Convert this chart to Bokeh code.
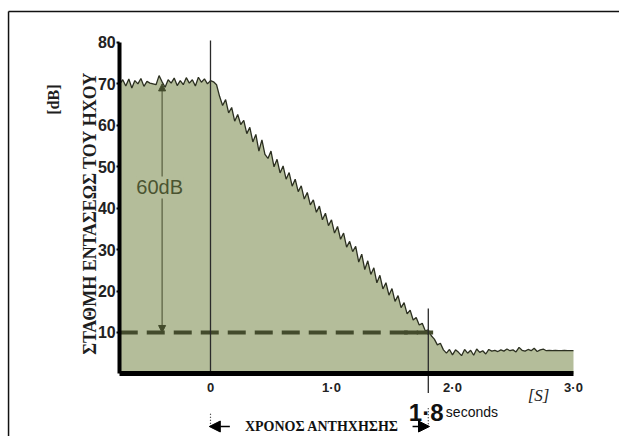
import numpy as np
from bokeh.plotting import figure
from bokeh.models import Range1d, LinearAxis, FixedTicker, Label, Arrow, NormalHead
from bokeh.embed import file_html
from bokeh.resources import INLINE

# ---------------- data ----------------
T_START = -0.75          # s, left end of the trace
T_STEP = 0.025           # s, sampling of the hand-read trace
T_REVERB = 1.8           # s, reverberation time
LEVEL_START = 70         # dB
LEVEL_END = 10           # dB (60 dB below)

plateau_db = [70.0, 71.0, 69.5, 71.2, 69.0, 70.8, 70.0, 71.3, 69.4, 70.6,
              70.2, 70.0, 69.8, 72.0, 70.5, 69.2, 71.0, 70.2, 71.4, 69.6,
              70.8, 69.8, 71.5, 70.2, 71.0, 69.5, 71.6, 70.4, 71.2, 70.0, 70.8]
decay_db = [70.5, 69.8, 67.0, 64.8, 66.2, 63.0, 64.3, 61.0, 62.6, 60.2,
            61.2, 58.0, 59.5, 56.0, 57.8, 53.8, 56.5, 53.0, 52.0, 53.8,
            50.0, 51.8, 48.5, 50.2, 47.0, 48.6, 45.3, 47.0, 44.0, 45.4,
            42.2, 43.8, 40.8, 42.0, 39.0, 40.5, 37.2, 38.8, 35.8, 37.2,
            34.0, 35.6, 32.5, 34.0, 30.6, 32.0, 29.5, 30.8, 27.0, 28.9,
            25.2, 27.3, 24.0, 25.6, 22.0, 23.8, 20.5, 22.0, 19.0, 20.6,
            17.5, 18.9, 16.0, 17.2, 14.5, 15.4, 13.0, 13.6, 11.8, 12.2,
            10.4, 10.6]
tail_db = [9.2, 8.4, 7.0, 7.4, 5.8, 5.0, 5.9, 4.6, 5.8, 5.2,
           4.4, 5.9, 5.0, 5.7, 4.5, 6.0, 5.2, 5.6, 4.8, 5.9,
           5.5, 5.7, 5.4, 5.8, 5.5, 6.0, 5.6, 5.8, 5.3, 6.4,
           5.7, 5.5, 5.9, 5.6, 6.2, 5.4, 5.8, 6.0, 5.6, 5.7,
           5.6, 5.7, 5.6, 5.6, 5.7, 5.6, 5.6, 5.6]

levels = plateau_db + decay_db + tail_db
times = [round(T_START + i * T_STEP, 3) for i in range(len(levels))]
T_END = times[-1]

x_ticks = [0, 1, 2, 3]
x_tick_labels = ["0", "1·0", "2·0", "3·0"]
y_ticks = [10, 20, 30, 40, 50, 60, 70, 80]

y_title = "ΣΤΑΘΜΗ ΕΝΤΑΣΕΩΣ ΤΟΥ ΗΧΟΥ"
y_unit = "[dB]"
x_unit = "[S]"
span_label = "60dB"
rt_value = "1·8"
rt_unit = "seconds"
rt_caption = "ΧΡΟΝΟΣ ΑΝΤΗΧΗΣΗΣ"

# ---------------- styling ----------------
FILL = "#b4bd9a"
TRACE = "#2c3021"
DARK_OLIVE = "#434b2c"
TEXT_OLIVE = "#4a5431"

# view window (canvas = plot frame)
X_LO, X_HI = -1.7355, 3.3802
Y_LO, Y_HI = -15.11, 90.13

p = figure(width=619, height=436, x_range=Range1d(X_LO, X_HI), y_range=Range1d(Y_LO, Y_HI),
           output_backend="svg", toolbar_location=None, min_border=0,
           x_axis_type=None, y_axis_type=None)
p.outline_line_color = None
p.background_fill_color = "white"
p.border_fill_color = "white"

# frame border of the scanned picture (top and left)
p.segment(x0=[-1.669, -1.669], y0=[87.47, 87.47], x1=[X_HI, -1.669], y1=[87.47, Y_LO],
          line_color="#111111", line_width=1.5)

# filled decay trace
p.varea(x=times, y1=0, y2=levels, fill_color=FILL)
p.line(times, levels, line_color=TRACE, line_width=1.3)

# dashed reference level at 10 dB
p.line([T_START, T_REVERB], [LEVEL_END, LEVEL_END], line_color=DARK_OLIVE,
       line_width=4, line_dash="18 9")
p.line([T_REVERB - 0.2, T_REVERB + 0.04], [LEVEL_END, LEVEL_END], line_color=DARK_OLIVE,
       line_width=4, line_dash="18 9", line_dash_offset=4)

# vertical marker lines
p.line([0, 0], [0, 80.5], line_color="#2a2a2a", line_width=1.3)
p.line([T_REVERB, T_REVERB], [-4.6, 15.8], line_color="#2a2a2a", line_width=1.3)

# 60 dB double arrow
arrow_x = -0.40
p.add_layout(Arrow(x_start=arrow_x, y_start=LEVEL_END + 32, x_end=arrow_x, y_end=LEVEL_START,
                   line_color=DARK_OLIVE, line_width=1,
                   end=NormalHead(size=7, fill_color=DARK_OLIVE, line_color=DARK_OLIVE)))
p.add_layout(Arrow(x_start=arrow_x, y_start=LEVEL_END + 32, x_end=arrow_x, y_end=LEVEL_END,
                   line_color=DARK_OLIVE, line_width=1,
                   end=NormalHead(size=7, fill_color=DARK_OLIVE, line_color=DARK_OLIVE)))
p.add_layout(Label(x=-0.42, y=45.0, text=span_label, text_align="center", text_baseline="middle",
                   text_font="Liberation Sans", text_font_size="20px", text_color=TEXT_OLIVE,
                   background_fill_color=FILL))

# axes
xax = LinearAxis(ticker=FixedTicker(ticks=x_ticks), fixed_location=0, bounds=(T_START, T_END),
                 major_label_overrides={k: v for k, v in zip(x_ticks, x_tick_labels)},
                 axis_line_width=5, axis_line_color="black",
                 major_tick_out=0, major_tick_in=0, minor_tick_out=0, minor_tick_in=0,
                 major_label_standoff=6, major_label_text_font="Liberation Sans",
                 major_label_text_font_style="bold", major_label_text_font_size="13px",
                 major_label_text_color="#222222")
p.add_layout(xax, "below")
yax = LinearAxis(ticker=FixedTicker(ticks=y_ticks), fixed_location=T_START, bounds=(0, 80),
                 axis_line_width=4, axis_line_color="black",
                 major_tick_out=3, major_tick_in=0, major_tick_line_width=2,
                 minor_tick_out=0, minor_tick_in=0,
                 major_label_standoff=1, major_label_text_font="Liberation Sans",
                 major_label_text_font_style="bold", major_label_text_font_size="16px",
                 major_label_text_color="#222222")
p.add_layout(yax, "left")

# axis titles and annotations
p.add_layout(Label(x=-0.992, y=38.7, text=y_title, angle=np.pi / 2, text_align="center",
                   text_baseline="middle", text_font="Liberation Serif", text_font_style="bold",
                   text_font_size="18px", text_color="#1e1e1e"))
p.add_layout(Label(x=-1.298, y=66.2, text=y_unit, angle=np.pi / 2, text_align="center",
                   text_baseline="middle", text_font="Liberation Serif", text_font_style="bold",
                   text_font_size="16px", text_color="#1e1e1e"))
p.add_layout(Label(x=2.711, y=-5.2, text=x_unit, text_align="center", text_baseline="middle",
                   text_font="Liberation Serif", text_font_style="italic", text_font_size="17px",
                   text_color="#1e1e1e"))
p.add_layout(Label(x=1.926, y=-9.3, text=rt_value, text_align="right", text_baseline="alphabetic",
                   text_font="Liberation Sans", text_font_style="bold", text_font_size="24px",
                   text_color="#111111"))
p.add_layout(Label(x=1.945, y=-9.3, text=rt_unit, text_align="left", text_baseline="alphabetic",
                   text_font="Liberation Sans", text_font_size="14px", text_color="#111111"))

# reverberation-time bracket below the axis
cap_y = -12.7
p.line([0, 0], [-9.6, cap_y], line_color="#222222", line_width=1.2, line_dash="1 2")
p.line([T_REVERB, T_REVERB], [-8.3, cap_y], line_color="#222222", line_width=1.2, line_dash="1 2")
p.add_layout(Arrow(x_start=0.16, y_start=cap_y, x_end=-0.01, y_end=cap_y, line_color="black",
                   line_width=1.5, end=NormalHead(size=11, fill_color="black", line_color="black")))
p.add_layout(Arrow(x_start=1.67, y_start=cap_y, x_end=T_REVERB + 0.01, y_end=cap_y, line_color="black",
                   line_width=1.5, end=NormalHead(size=11, fill_color="black", line_color="black")))
p.add_layout(Label(x=0.92, y=cap_y, text=rt_caption, text_align="center", text_baseline="middle",
                   text_font="Liberation Serif", text_font_style="bold", text_font_size="14px",
                   text_color="#111111"))

open("out.html", "w").write(file_html(p, INLINE))
